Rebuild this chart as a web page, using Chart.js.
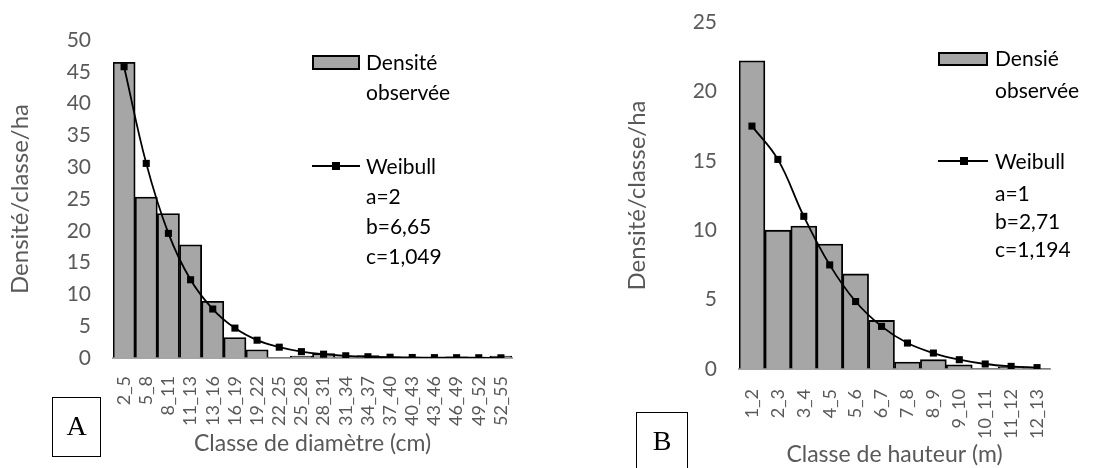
<!DOCTYPE html>
<html>
<head>
<meta charset="utf-8">
<script src="https://cdn.jsdelivr.net/npm/chart.js@4/dist/chart.umd.min.js"></script>
<style>
  html, body { margin: 0; padding: 0; background: #fff; }
  #wrap { position: relative; width: 1098px; height: 468px; overflow: hidden; font-family: Lato, sans-serif; }
  canvas { position: absolute; top: 0; }
  .leg { position: absolute; font-size: 21px; color: #000; line-height: 24px; white-space: nowrap; }
  .legBox { position: absolute; background: #a6a6a6; border: 2px solid #000; box-sizing: border-box; }
  .legLine { position: absolute; height: 2px; background: #000; }
  .legDot { position: absolute; width: 8px; height: 8px; background: #000; }
  .tag { position: absolute; border: 1px solid #000; box-sizing: border-box; font-family: 'Liberation Serif', serif; font-size: 28px; text-align: center; }
</style>
</head>
<body>
<div id="wrap">
  <canvas id="chartA" width="560" height="468" style="left:0"></canvas>
  <canvas id="chartB" width="538" height="468" style="left:560px"></canvas>

  <!-- legende A -->
  <div class="legBox" style="left:312px;top:55px;width:48px;height:15px;"></div>
  <div class="leg" style="left:366px;top:50px;">Densité</div>
  <div class="leg" style="left:366px;top:80px;">observée</div>
  <div class="legLine" style="left:312px;top:165px;width:48px;"></div>
  <div class="legDot" style="left:332px;top:162px;"></div>
  <div class="leg" style="left:366px;top:154px;">Weibull</div>
  <div class="leg" style="left:366px;top:184px;">a=2</div>
  <div class="leg" style="left:366px;top:214px;">b=6,65</div>
  <div class="leg" style="left:366px;top:244px;">c=1,049</div>
  <div class="tag" style="left:52px;top:397px;width:49px;height:60px;line-height:56px;">A</div>

  <!-- legende B -->
  <div class="legBox" style="left:938px;top:52px;width:50px;height:14px;"></div>
  <div class="leg" style="left:995px;top:46px;">Densié</div>
  <div class="leg" style="left:995px;top:78px;">observée</div>
  <div class="legLine" style="left:938px;top:160px;width:50px;"></div>
  <div class="legDot" style="left:960px;top:157px;"></div>
  <div class="leg" style="left:995px;top:149px;">Weibull</div>
  <div class="leg" style="left:995px;top:181px;">a=1</div>
  <div class="leg" style="left:995px;top:209px;">b=2,71</div>
  <div class="leg" style="left:995px;top:237px;">c=1,194</div>
  <div class="tag" style="left:636px;top:412px;width:52px;height:70px;line-height:56px;">B</div>
</div>

<script>
// ── Dati ──────────────────────────────────────
const classesDiam = ['2_5','5_8','8_11','11_13','13_16','16_19','19_22','22_25','25_28','28_31','31_34','34_37','37_40','40_43','43_46','46_49','49_52','52_55'];
const observeDiam = [46.5, 25.3, 22.7, 17.8, 8.9, 3.2, 1.3, 0.1, 0.3, 0.7, 0.2, 0.4, 0.2, 0.05, 0.05, 0.2, 0.05, 0.3];
const weibullDiam = [45.8, 30.6, 19.6, 12.3, 7.7, 4.7, 2.8, 1.7, 1.0, 0.6, 0.35, 0.2, 0.12, 0.08, 0.06, 0.05, 0.04, 0.03];

const classesHaut = ['1_2','2_3','3_4','4_5','5_6','6_7','7_8','8_9','9_10','10_11','11_12','12_13'];
const observeHaut = [22.2, 10.0, 10.3, 9.0, 6.85, 3.5, 0.5, 0.67, 0.3, 0.05, 0.15, 0.05];
const weibullHaut = [17.5, 15.1, 11.0, 7.5, 4.86, 3.07, 1.87, 1.15, 0.67, 0.36, 0.19, 0.1];

const yTicksDiam = { max: 50, step: 5 };
const yTicksHaut = { max: 25, step: 5 };

Chart.defaults.font.family = 'Lato, sans-serif';
Chart.defaults.color = '#595959';

// ── Grafico ───────────────────────────────────
function makeChart(id, labels, observed, weibull, yT, cfg) {
    const ctx = document.getElementById(id).getContext('2d');
    return new Chart(ctx, {
        type: 'bar',
        data: {
            labels: labels,
            datasets: [{
                type: 'line',
                label: 'Weibull',
                data: weibull,
                borderColor: '#000',
                borderWidth: 1.8,
                tension: 0.4,
                pointStyle: 'rect',
                pointRadius: 5,
                pointBackgroundColor: '#000',
                pointBorderColor: '#000',
                pointBorderWidth: 0,
                order: 0
            }, {
                label: 'Densité observée',
                data: observed,
                backgroundColor: '#a6a6a6',
                borderColor: '#000',
                borderWidth: 1.8,
                categoryPercentage: 1,
                barPercentage: 1,
                order: 1
            }]
        },
        options: {
            responsive: false,
            animation: false,
            layout: { padding: { left: 0, right: cfg.padRight, top: cfg.padTop, bottom: 0 } },
            plugins: { legend: { display: false }, tooltip: { enabled: false } },
            scales: {
                x: {
                    grid: { display: false },
                    border: { display: true, color: '#a6a6a6', width: 2 },
                    ticks: { autoSkip: false, minRotation: 90, maxRotation: 90, padding: cfg.xPad, font: { size: 18 }, color: '#595959' },
                    title: { display: true, text: cfg.xTitle, font: { size: 23 }, color: '#595959', padding: { top: 0, bottom: cfg.xTitleBottom } },
                    afterFit: s => { s.height = cfg.xHeight; }
                },
                y: {
                    min: 0, max: yT.max,
                    // tacche invisibili: distanziano le etichette senza gonfiare il padding in alto
                    grid: { display: true, drawOnChartArea: false, drawTicks: true, tickLength: 20, tickColor: 'rgba(0,0,0,0)' },
                    border: { display: false },
                    ticks: { stepSize: yT.step, padding: 2, font: { size: 21 }, color: '#595959' },
                    title: { display: true, text: 'Densité/classe/ha', font: { size: 24 }, color: '#595959', padding: { top: cfg.yTitleTop, bottom: 0 } },
                    afterFit: s => { s.width = cfg.yWidth; }
                }
            }
        }
    });
}

makeChart('chartA', classesDiam, observeDiam, weibullDiam, yTicksDiam, {
    padRight: 48, padTop: 40, xHeight: 110, yWidth: 113,
    xPad: 10, xTitle: 'Classe de diamètre (cm)', xTitleBottom: 11, yTitleTop: 6
});

makeChart('chartB', classesHaut, observeHaut, weibullHaut, yTicksHaut, {
    padRight: 48, padTop: 22, xHeight: 99, yWidth: 179,
    xPad: 12, xTitle: 'Classe de hauteur (m)', xTitleBottom: 0, yTitleTop: 63
});
</script>
</body>
</html>
